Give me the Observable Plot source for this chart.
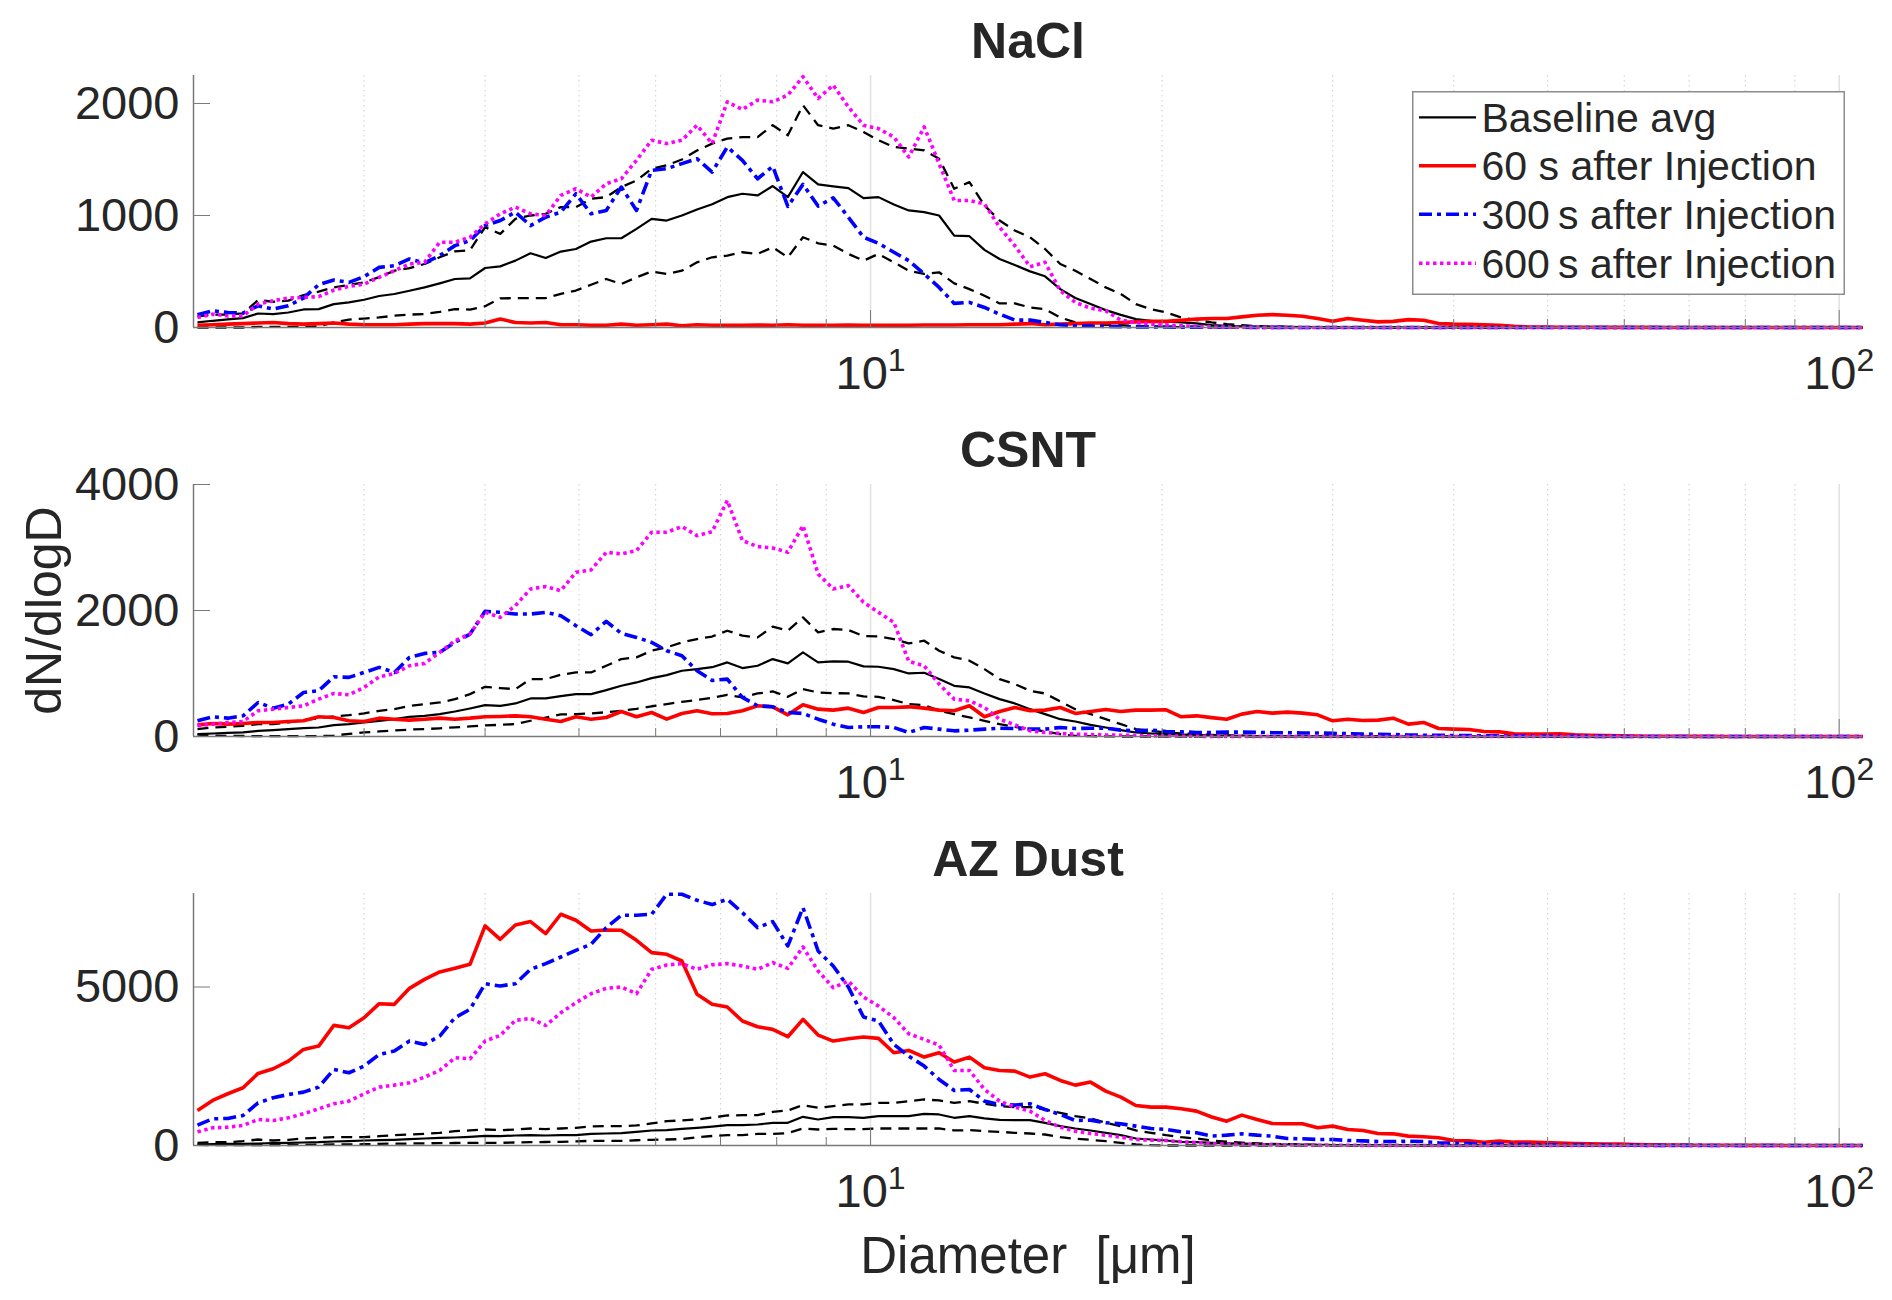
<!DOCTYPE html>
<html>
<head>
<meta charset="utf-8">
<script src="https://cdn.jsdelivr.net/npm/d3@7"></script>
<script src="https://cdn.jsdelivr.net/npm/@observablehq/plot@0.6"></script>
<style>
html,body{margin:0;padding:0;background:#fff;}
#root{position:relative;width:1892px;height:1300px;overflow:hidden;background:#fff;font-family:"Liberation Sans",Arial,Helvetica,sans-serif;}
#root svg{display:block;}
#legend{position:absolute;left:1412px;top:91px;}
</style>
</head>
<body>
<div id="root"></div>
<script>
// ---------- categories: particle diameter bins (µm) ----------
const diameters = [
  2.019,2.093,2.170,2.250,2.332,2.417,2.506,2.598,2.693,2.792,
  2.894,3.000,3.110,3.224,3.342,3.464,3.591,3.723,3.859,4.000,
  4.147,4.299,4.456,4.620,4.789,4.964,5.146,5.335,5.530,5.733,
  5.943,6.160,6.386,6.620,6.862,7.114,7.374,7.645,7.925,8.215,
  8.516,8.828,9.151,9.486,9.834,10.19,10.57,10.95,11.36,11.77,
  12.20,12.65,13.11,13.59,14.09,14.61,15.14,15.70,16.27,16.87,
  17.49,18.13,18.79,19.48,20.19,20.93,21.70,22.50,23.32,24.17,
  25.06,25.98,26.93,27.92,28.94,30.00,31.10,32.24,33.42,34.64,
  35.91,37.23,38.59,40.00,41.47,42.99,44.56,46.20,47.89,49.64,
  51.46,53.35,55.30,57.33,59.43,61.60,63.86,66.20,68.62,71.14,
  73.74,76.45,79.25,82.15,85.16,88.28,91.51,94.86,98.34,101.9,
  105.7
];
const xDomain = [2, 105.7];

// ---------- NaCl ----------
const naclAvg = [
  45,60,72,84,125,120,134,161,164,209,
  224,248,281,299,328,358,394,433,439,531,
  546,597,663,621,678,701,767,797,797,881,
  970,955,1000,1054,1100,1164,1194,1179,1263,1164,
  1388,1278,1260,1245,1155,1164,1098,1045,1030,1000,
  821,815,693,612,558,501,457,343,263,209,
  155,113,75,60,54,45,36,21,15,10,
  8,6,5,4,3,3,2,2,1,1,
  1,1,0,0,0,0,0,0,0,0,
  0,0,0,0,0,0,0,0,0,0,
  0,0,0,0,0,0,0,0,0,0,
  0
];
const naclUpper = [
  100,115,115,125,245,230,240,290,320,358,
  380,403,450,507,530,567,627,680,690,896,
  836,970,1000,1015,1075,1075,1149,1164,1254,1313,
  1418,1448,1500,1580,1642,1687,1700,1700,1806,1716,
  1985,1806,1776,1806,1746,1672,1612,1597,1582,1507,
  1239,1298,1090,955,866,806,701,567,507,433,
  358,299,209,164,134,90,66,45,30,20,
  12,8,5,3,2,1,0,0,0,0,
  0,0,0,0,0,0,0,0,0,0,
  0,0,0,0,0,0,0,0,0,0,
  0,0,0,0,0,0,0,0,0,0,
  0
];
const naclLower = [
  0,0,0,0,5,5,5,5,10,45,
  70,80,90,105,115,120,140,164,160,190,
  260,262,262,263,300,330,382,433,388,448,
  501,478,507,582,627,642,672,657,716,627,
  806,752,731,657,597,657,582,507,478,493,
  394,343,284,215,215,179,164,90,45,30,
  24,20,15,10,5,3,2,1,0,0,
  0,0,0,0,0,0,0,0,0,0,
  0,0,0,0,0,0,0,0,0,0,
  0,0,0,0,0,0,0,0,0,0,
  0,0,0,0,0,0,0,0,0,0,
  0
];
const nacl60 = [
  20,25,30,35,40,45,35,30,35,40,
  30,25,25,25,30,35,35,35,30,40,
  75,45,40,45,25,25,20,20,30,20,
  25,30,15,25,20,20,20,22,20,25,
  20,20,20,22,20,20,20,20,22,22,
  22,25,25,25,30,35,25,30,35,40,
  40,45,50,55,55,65,75,80,80,95,
  110,115,110,100,80,55,80,65,50,55,
  70,65,35,30,28,25,20,10,5,3,
  2,2,2,1,1,1,1,0,0,0,
  0,0,0,0,0,0,0,0,0,0,
  0
];
const nacl300 = [
  113,149,134,128,194,164,194,263,382,424,
  403,454,537,552,612,576,642,731,776,910,
  955,1030,910,985,1030,1194,1015,1045,1254,1045,
  1403,1418,1463,1507,1388,1612,1493,1328,1439,1081,
  1278,1084,1158,985,806,752,672,597,478,358,
  215,224,179,119,66,66,45,24,15,12,
  10,8,6,5,4,3,3,2,2,2,
  1,1,1,0,0,0,0,0,0,0,
  0,0,0,0,0,0,0,0,0,0,
  0,0,0,0,0,0,0,0,0,0,
  0,0,0,0,0,0,0,0,0,0,
  0
];
const nacl600 = [
  90,119,104,104,209,239,263,269,275,334,
  367,388,448,507,567,582,761,761,806,925,
  1015,1075,1015,1000,1179,1239,1164,1284,1328,1493,
  1672,1642,1672,1806,1642,2015,1946,2030,2015,2075,
  2239,2045,2164,1970,1806,1776,1701,1522,1791,1463,
  1134,1134,1104,896,731,543,582,328,224,173,
  149,66,45,30,24,15,10,5,3,2,
  1,1,0,0,0,0,0,0,0,0,
  0,0,0,0,0,0,0,0,0,0,
  0,0,0,0,0,0,0,0,0,0,
  0,0,0,0,0,0,0,0,0,0,
  0
];

// ---------- CSNT ----------
const csntAvg = [
  37,48,58,64,90,101,117,132,143,180,
  196,223,249,275,313,328,355,397,445,498,
  487,525,604,604,641,673,673,736,805,858,
  927,975,1044,1070,1100,1176,1086,1123,1229,1160,
  1335,1176,1192,1187,1113,1107,1070,1001,1012,911,
  805,779,683,593,525,434,355,275,238,185,
  143,101,64,48,37,30,25,20,15,10,
  8,6,5,4,3,2,2,1,1,0,
  0,0,0,0,0,0,0,0,0,0,
  0,0,0,0,0,0,0,0,0,0,
  0,0,0,0,0,0,0,0,0,0,
  0
];
const csntUpper = [
  117,143,154,170,196,196,223,260,291,318,
  339,366,408,434,487,514,540,593,673,789,
  768,752,911,911,980,1017,1017,1123,1229,1256,
  1362,1415,1494,1547,1587,1679,1600,1573,1743,1679,
  1891,1653,1706,1690,1595,1589,1547,1478,1520,1362,
  1256,1203,1070,911,832,726,683,556,434,355,
  275,196,117,90,64,48,37,25,18,12,
  8,5,3,2,1,0,0,0,0,0,
  0,0,0,0,0,0,0,0,0,0,
  0,0,0,0,0,0,0,0,0,0,
  0,0,0,0,0,0,0,0,0,0,
  0
];
const csntLower = [
  30,15,10,8,5,5,5,5,5,15,
  40,64,80,95,110,117,130,145,160,175,
  185,196,250,300,350,355,366,385,408,440,
  480,514,550,580,612,662,620,683,715,630,
  752,699,689,683,636,630,577,514,498,408,
  355,302,249,196,154,117,80,37,10,5,
  2,0,0,0,0,0,0,0,0,0,
  0,0,0,0,0,0,0,0,0,0,
  0,0,0,0,0,0,0,0,0,0,
  0,0,0,0,0,0,0,0,0,0,
  0,0,0,0,0,0,0,0,0,0,
  0
];
const csnt60 = [
  185,207,196,207,223,223,238,249,313,302,
  249,238,291,275,260,275,291,275,291,313,
  318,328,313,275,238,313,275,302,397,313,
  381,275,366,408,360,366,408,487,471,344,
  503,434,419,450,381,461,461,471,450,419,
  408,487,313,397,461,408,419,461,366,397,
  429,397,419,419,424,313,328,300,275,355,
  397,371,387,371,344,249,275,254,260,291,
  196,223,127,117,111,80,74,42,37,37,
  42,26,21,16,10,8,5,4,3,2,
  2,1,1,0,0,0,0,0,0,0,
  0
];
const csnt300 = [
  249,313,291,328,540,450,514,699,726,948,
  938,1017,1097,1017,1256,1319,1335,1494,1626,1987,
  1971,1944,1944,1971,1918,1759,1616,1828,1637,1573,
  1494,1362,1282,1044,890,911,620,487,471,381,
  366,275,196,143,154,154,143,64,143,117,
  90,101,117,132,127,117,117,143,127,132,
  132,101,90,101,80,74,64,64,70,70,
  65,60,60,55,55,50,45,40,35,30,
  25,20,18,16,14,12,10,8,6,5,
  4,3,2,2,1,1,0,0,0,0,
  0,0,0,0,0,0,0,0,0,0,
  0
];
const csnt600 = [
  170,196,223,238,408,434,461,487,593,683,
  662,779,948,1001,1123,1160,1335,1520,1626,1971,
  1891,2077,2342,2379,2315,2607,2644,2924,2898,2951,
  3242,3242,3332,3189,3250,3746,3110,3014,2993,2924,
  3348,2580,2342,2395,2130,1971,1812,1192,1123,832,
  593,567,461,275,185,90,64,48,37,30,
  25,20,15,10,8,5,3,2,1,1,
  0,0,0,0,0,0,0,0,0,0,
  0,0,0,0,0,0,0,0,0,0,
  0,0,0,0,0,0,0,0,0,0,
  0,0,0,0,0,0,0,0,0,0,
  0
];

// ---------- AZ Dust ----------
const azAvg = [
  32,42,53,53,63,74,84,95,105,126,
  137,158,168,179,200,221,242,253,274,305,
  295,316,326,316,326,326,368,379,389,432,
  474,484,526,558,595,642,642,663,716,716,
  905,821,895,895,874,926,926,926,1000,979,
  874,926,853,811,800,800,716,611,537,474,
  400,326,221,189,158,116,105,84,70,60,
  50,40,32,26,21,16,12,10,8,6,
  5,4,3,2,2,1,1,0,0,0,
  0,0,0,0,0,0,0,0,0,0,
  0,0,0,0,0,0,0,0,0,0,
  0
];
const azUpper = [
  84,105,105,137,189,158,179,221,242,263,
  263,263,295,326,347,368,400,453,474,505,
  484,505,537,516,537,558,600,611,611,632,
  695,768,789,821,880,947,958,958,1063,1105,
  1274,1189,1242,1295,1295,1347,1347,1400,1453,1421,
  1347,1400,1316,1242,1210,1210,1137,1032,926,853,
  716,611,474,400,326,263,221,158,120,90,
  70,50,40,30,20,15,10,8,6,5,
  4,3,2,1,1,0,0,0,0,0,
  0,0,0,0,0,0,0,0,0,0,
  0,0,0,0,0,0,0,0,0,0,
  0
];
const azLower = [
  20,15,10,10,10,10,15,20,25,32,
  35,40,53,58,63,68,74,79,84,84,
  84,95,105,110,116,130,147,147,147,165,
  179,190,200,260,300,326,326,368,368,389,
  537,505,526,516,516,537,537,537,537,537,
  474,484,453,432,400,379,347,263,211,179,
  137,84,32,10,0,0,0,0,0,0,
  0,0,0,0,0,0,0,0,0,0,
  0,0,0,0,0,0,0,0,0,0,
  0,0,0,0,0,0,0,0,0,0,
  0,0,0,0,0,0,0,0,0,0,
  0
];
const az60 = [
  1105,1421,1632,1821,2274,2421,2663,3032,3137,3789,
  3716,4031,4474,4453,4958,5242,5474,5589,5716,6926,
  6505,6958,7063,6684,7295,7105,6768,6800,6789,6474,
  6084,6031,5821,4768,4453,4368,3926,3747,3663,3432,
  3979,3484,3295,3368,3421,3379,2926,3000,2789,2926,
  2632,2789,2453,2368,2347,2158,2263,2053,1905,2000,
  1716,1526,1263,1210,1210,1158,1084,900,768,958,
  821,695,684,684,558,611,505,474,379,368,
  295,274,242,158,147,105,137,105,105,95,
  74,63,53,42,42,32,21,16,12,10,
  8,6,5,4,3,2,2,1,1,0,
  0
];
const az300 = [
  642,842,853,947,1347,1505,1610,1684,1842,2400,
  2295,2505,2874,2979,3295,3189,3453,4031,4295,5105,
  5031,5105,5558,5737,5947,6158,6347,6874,7263,7263,
  7295,7926,7926,7737,7600,7768,7347,6874,7063,6295,
  7505,6137,5663,5000,4053,3926,3189,2821,2505,2084,
  1737,1768,1400,1295,1274,1316,1137,979,789,800,
  716,684,611,537,505,432,400,300,326,368,
  326,295,221,211,189,189,158,147,126,126,
  137,126,84,74,63,53,42,37,32,26,
  21,16,12,10,8,6,5,4,3,3,
  2,2,1,1,1,0,0,0,0,0,
  0
];
const az600 = [
  432,558,579,632,821,789,874,1000,1158,1316,
  1400,1632,1842,1905,1979,2158,2368,2768,2737,3295,
  3474,3947,4010,3789,4189,4505,4789,4958,5000,4789,
  5558,5695,5737,5558,5700,5737,5663,5558,5768,5589,
  6263,5505,4979,5189,4684,4400,4031,3526,3347,3168,
  2368,2368,1768,1400,1210,1084,789,579,453,379,
  326,263,189,168,158,116,95,53,40,30,
  25,20,15,12,10,8,6,5,4,3,
  2,2,1,1,0,0,0,0,0,0,
  0,0,0,0,0,0,0,0,0,0,
  0,0,0,0,0,0,0,0,0,0,
  0
];

// ---------- tick labels & texts ----------
const panelTitles = ["NaCl", "CSNT", "AZ Dust"];
const yTicksNaCl = [0, 1000, 2000];
const yTicksCSNT = [0, 2000, 4000];
const yTicksAZ = [0, 5000];
const xMajorTicks = [10, 100];
const xMinorTicks = [3, 4, 5, 6, 7, 8, 9, 20, 30, 40, 50, 60, 70, 80, 90];
const legendLabels = ["Baseline avg", "60 s after Injection", "300\u2009s after Injection", "600\u2009s after Injection"];
const yLabel = "dN/dlogD";
const xLabel = "Diameter  [\u03bcm]";

// ---------- styling ----------
const FONT = '"Liberation Sans", Arial, Helvetica, sans-serif';
const INK = "#262626";
const AXIS = "#7a7a7a";
const styles = {
  bound: {stroke: "#000000", width: 2.3, dash: "11,7"},
  avg: {stroke: "#000000", width: 2.2, dash: null},
  s60: {stroke: "#ff0000", width: 3.6, dash: null},
  s300: {stroke: "#0000ff", width: 3.6, dash: "13,5,4,5"},
  s600: {stroke: "#ff00ff", width: 3.6, dash: "3.5,3.5"}
};

function lineMark(values, st) {
  return Plot.line(values, {
    x: (d, i) => diameters[i],
    y: d => d,
    stroke: st.stroke,
    strokeWidth: st.width,
    strokeDasharray: st.dash,
    strokeLinejoin: "round",
    strokeLinecap: "butt"
  });
}

function panel(cfg) {
  const svg = Plot.plot({
    width: 1892,
    height: cfg.height,
    marginLeft: 193,
    marginRight: 30,
    marginTop: 75,
    marginBottom: cfg.marginBottom,
    style: {fontFamily: FONT, color: INK, background: "transparent"},
    x: {type: "log", domain: xDomain},
    y: {domain: cfg.yDomain},
    marks: [
      Plot.ruleX(xMinorTicks, {stroke: "#d2d2d2", strokeDasharray: "1.5,3.5", strokeWidth: 1.1}),
      Plot.ruleX(xMajorTicks, {stroke: "#e2e2e2", strokeWidth: 1.6}),
      lineMark(cfg.lower, styles.bound),
      lineMark(cfg.upper, styles.bound),
      lineMark(cfg.avg, styles.avg),
      lineMark(cfg.s60, styles.s60),
      lineMark(cfg.s300, styles.s300),
      lineMark(cfg.s600, styles.s600),
      Plot.ruleY([0], {stroke: AXIS, strokeWidth: 1.5}),
      Plot.ruleX([xDomain[0]], {stroke: AXIS, strokeWidth: 1.5}),
      Plot.axisX({ticks: xMinorTicks, tickSize: -8, fill: "none", stroke: AXIS, label: null}),
      Plot.axisX({ticks: xMajorTicks, tickSize: -17, fill: "none", stroke: AXIS, label: null}),
      Plot.axisX({ticks: xMajorTicks, tickSize: 0, tickPadding: 28, fontSize: 47, fill: INK,
        tickFormat: d => "10^" + Math.round(Math.log10(d)), label: null}),
      Plot.axisY({ticks: cfg.yTicks, tickSize: -17, fill: "none", stroke: AXIS, label: null}),
      Plot.axisY({ticks: cfg.yTicks, tickSize: 0, tickPadding: 14, fontSize: 47, fill: INK,
        tickFormat: d => String(d), label: null}),
      Plot.text([cfg.title], {text: d => d, frameAnchor: "top", dy: -18, lineAnchor: "bottom",
        fontSize: 50, fontWeight: "bold", fill: INK}),
      ...(cfg.extra || [])
    ]
  });
  // superscript exponents on the decade labels
  svg.querySelectorAll('g[aria-label="x-axis tick label"] text').forEach(t => {
    const m = /^10\^(\d+)$/.exec(t.textContent);
    if (m) {
      t.textContent = "10";
      const ts = document.createElementNS("http://www.w3.org/2000/svg", "tspan");
      ts.setAttribute("dy", "-18");
      ts.setAttribute("font-size", "32");
      ts.textContent = m[1];
      t.appendChild(ts);
    }
  });
  // italic mu in x label
  svg.querySelectorAll('g[aria-label="xlabel"] text').forEach(t => {
    t.setAttribute("style", "white-space:pre");
    t.textContent = "";
    const parts = [["Diameter  [", null], ["\u03bc", "italic"], ["m]", null]];
    for (const [s, fs] of parts) {
      const ts = document.createElementNS("http://www.w3.org/2000/svg", "tspan");
      if (fs) ts.setAttribute("font-style", fs);
      ts.textContent = s;
      t.appendChild(ts);
    }
  });
  return svg;
}

const root = document.getElementById("root");

root.appendChild(panel({
  title: panelTitles[0], avg: naclAvg, upper: naclUpper, lower: naclLower,
  s60: nacl60, s300: nacl300, s600: nacl600,
  yDomain: [0, 2250], yTicks: yTicksNaCl, height: 409, marginBottom: 82
}));

root.appendChild(panel({
  title: panelTitles[1], avg: csntAvg, upper: csntUpper, lower: csntLower,
  s60: csnt60, s300: csnt300, s600: csnt600,
  yDomain: [0, 4000], yTicks: yTicksCSNT, height: 409, marginBottom: 82,
  extra: [Plot.text([yLabel], {text: d => d, frameAnchor: "left", dx: -149, rotate: -90,
    fontSize: 50, fill: INK, textAnchor: "middle", lineAnchor: "middle"})]
}));

root.appendChild(panel({
  title: panelTitles[2], avg: azAvg, upper: azUpper, lower: azLower,
  s60: az60, s300: az300, s600: az600,
  yDomain: [0, 7950], yTicks: yTicksAZ, height: 472, marginBottom: 145,
  extra: [Plot.text([xLabel], {text: d => d, frameAnchor: "bottom", dy: 127, lineAnchor: "bottom",
    fontSize: 51, fill: INK, ariaLabel: "xlabel"})]
}));

// ---------- legend (inside the NaCl axes, top right) ----------
(function legend() {
  const W = 433, H = 204;
  const rowsY = [26.3, 74.7, 123.3, 172.3];
  const keys = ["avg", "s60", "s300", "s600"];
  const ns = "http://www.w3.org/2000/svg";
  const svg = document.createElementNS(ns, "svg");
  svg.setAttribute("width", W); svg.setAttribute("height", H);
  svg.setAttribute("id", "legend");
  svg.style.position = "absolute"; svg.style.left = "1412px"; svg.style.top = "91px";
  const rect = document.createElementNS(ns, "rect");
  rect.setAttribute("x", 0.75); rect.setAttribute("y", 0.75);
  rect.setAttribute("width", W - 1.5); rect.setAttribute("height", H - 1.5);
  rect.setAttribute("fill", "#ffffff"); rect.setAttribute("stroke", "#8c8c8c"); rect.setAttribute("stroke-width", 1.5);
  svg.appendChild(rect);
  keys.forEach((k, i) => {
    const st = styles[k];
    const ln = document.createElementNS(ns, "line");
    ln.setAttribute("x1", 7); ln.setAttribute("x2", 64);
    ln.setAttribute("y1", rowsY[i]); ln.setAttribute("y2", rowsY[i]);
    ln.setAttribute("stroke", st.stroke); ln.setAttribute("stroke-width", st.width);
    if (st.dash) ln.setAttribute("stroke-dasharray", st.dash);
    svg.appendChild(ln);
    const tx = document.createElementNS(ns, "text");
    tx.setAttribute("x", 69.5); tx.setAttribute("y", rowsY[i] + 14.5);
    tx.setAttribute("font-family", FONT); tx.setAttribute("font-size", 41);
    tx.setAttribute("fill", INK);
    tx.textContent = legendLabels[i];
    svg.appendChild(tx);
  });
  root.appendChild(svg);
})();
</script>
</body>
</html>
